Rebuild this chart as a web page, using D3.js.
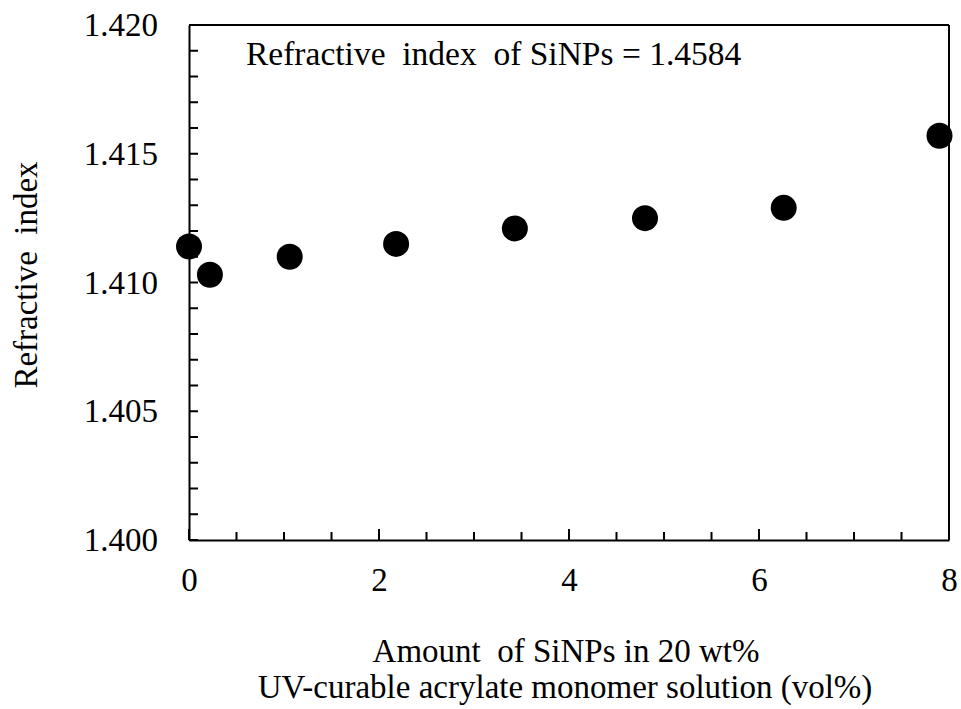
<!DOCTYPE html>
<html><head><meta charset="utf-8">
<script src="https://cdn.jsdelivr.net/npm/d3@7"></script>
<style>body{margin:0;background:#fff}svg{display:block}</style>
</head><body>
<script>
const xValues = [0, 0.22, 1.06, 2.18, 3.43, 4.8, 6.26, 7.9];
const yValues = [1.4114, 1.4103, 1.4110, 1.4115, 1.4121, 1.4125, 1.4129, 1.4157];
const xTicks = [0, 2, 4, 6, 8];
const yTicks = [1.400, 1.405, 1.410, 1.415, 1.420];
const annotation = "Refractive  index  of SiNPs = 1.4584";
const xTitle = ["Amount  of SiNPs in 20 wt%", "UV-curable acrylate monomer solution (vol%)"];
const yTitle = "Refractive  index";

const FONT = '"Liberation Serif"';
const W = 961, H = 709;
const m = {l: 189, r: 12, t: 25, b: 169};
const svg = d3.select("body").append("svg").attr("width", W).attr("height", H);
const x = d3.scaleLinear().domain([0, 8]).range([m.l, W - m.r]);
const y = d3.scaleLinear().domain([1.400, 1.420]).range([H - m.b, m.t]);
const fs = 33;

// minor ticks
const xMinor = d3.range(0, 8.001, 0.5);
const yMinor = d3.range(0, 21).map(i => 1.400 + i * 0.001);
svg.append("g").selectAll("line").data(xMinor).join("line")
  .attr("x1", d => x(d)).attr("x2", d => x(d))
  .attr("y1", y(1.4)).attr("y2", d => y(1.4) - (Math.abs(d % 2) < 1e-9 ? 11 : 8))
  .attr("stroke", "#000").attr("stroke-width", 2);
svg.append("g").selectAll("line").data(yMinor).join("line")
  .attr("y1", d => y(d)).attr("y2", d => y(d))
  .attr("x1", x(0)).attr("x2", d => x(0) + 9)
  .attr("stroke", "#000").attr("stroke-width", 2);

// axes
const xAxis = svg.append("g").attr("transform", `translate(0,${y(1.4)})`)
  .call(d3.axisBottom(x).tickValues(xTicks).tickSize(0).tickPadding(28).tickFormat(d3.format("d")));
const yAxis = svg.append("g").attr("transform", `translate(${x(0)},0)`)
  .call(d3.axisLeft(y).tickValues(yTicks).tickSize(0).tickPadding(31).tickFormat(d3.format(".3f")));
[xAxis, yAxis].forEach(g => {
  g.attr("font-family", FONT).attr("font-size", fs);
  g.select(".domain").attr("stroke", "#000").attr("stroke-width", 2);
  g.selectAll("text").attr("font-family", FONT).attr("font-size", fs).attr("fill", "#000");
});
// top & right borders
svg.append("line").attr("x1", x(0)).attr("x2", x(8)).attr("y1", y(1.42)).attr("y2", y(1.42)).attr("stroke", "#000").attr("stroke-width", 2);
svg.append("line").attr("x1", x(8)).attr("x2", x(8)).attr("y1", y(1.42)).attr("y2", y(1.4)).attr("stroke", "#000").attr("stroke-width", 2);

// points
svg.append("g").selectAll("circle").data(xValues.map((d, i) => [d, yValues[i]])).join("circle")
  .attr("cx", d => x(d[0])).attr("cy", d => y(d[1])).attr("r", 13).attr("fill", "#000");

function txt(s, size) {
  return svg.append("text").attr("font-family", FONT).attr("font-size", size || fs).attr("fill", "#000")
    .style("white-space", "pre").text(s);
}
// annotation
txt(annotation, 33.5).attr("x", 246).attr("y", 65);

// titles
const cx = (x(0) + x(8)) / 2;
txt(xTitle[0]).attr("x", cx - 3).attr("y", 662).attr("text-anchor", "middle");
txt(xTitle[1]).attr("x", cx - 4).attr("y", 698).attr("text-anchor", "middle");
txt(yTitle).attr("transform", `translate(37,275) rotate(-90)`).attr("text-anchor", "middle");
</script>
</body></html>
